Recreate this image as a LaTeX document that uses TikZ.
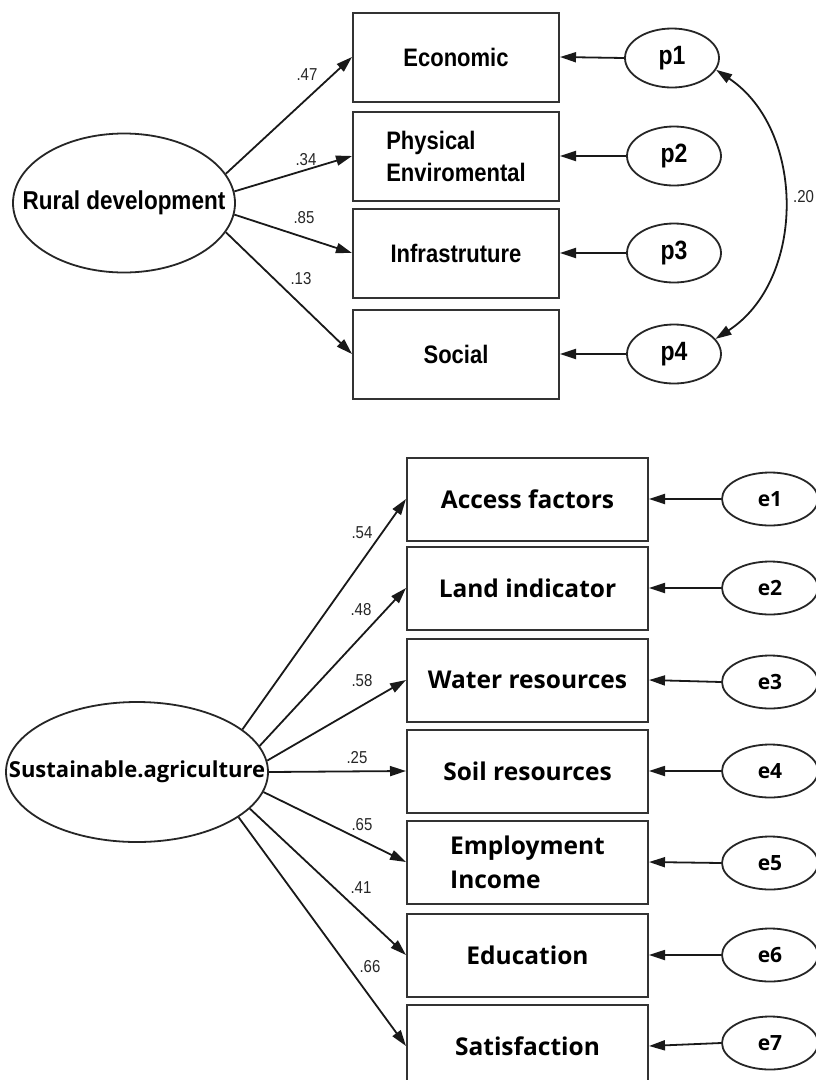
\documentclass[tikz,border=0pt]{standalone}
\usepackage{fontspec}
\usepackage{graphicx}
\setmainfont{Liberation Sans}
\newfontfamily\osans{Open Sans}
\usetikzlibrary{shapes.geometric,arrows.meta}
\newcommand{\tallt}[1]{\scalebox{1}[1.15]{#1}}
\begin{document}
\begin{tikzpicture}[x=1pt,y=-1pt,
  arr/.style={line width=1.8pt, draw=black!90, -{Triangle[length=16pt,width=10pt]}},
  tbox/.style={draw=black!80, line width=2pt, rectangle, minimum width=206pt, minimum height=89pt, inner sep=0pt, align=left, font=\fontsize{22}{32}\selectfont\bfseries},
  bbox/.style={draw=black!80, line width=2pt, rectangle, minimum width=241pt, minimum height=83pt, inner sep=0pt, align=left, font=\osans\fontsize{24.5}{34}\selectfont\bfseries},
  lat/.style={draw=black!85, line width=1.8pt, ellipse, inner sep=0pt},
  perr/.style={draw=black!85, line width=1.8pt, ellipse, inner sep=0pt, minimum width=94pt, minimum height=59pt, font=\fontsize{23}{25}\selectfont\bfseries},
  eerr/.style={draw=black!85, line width=1.8pt, ellipse, inner sep=0pt, minimum width=96pt, minimum height=53pt, font=\osans\fontsize{21}{24}\selectfont\bfseries},
  lab/.style={font=\fontsize{15}{17}\selectfont, text=black!85, inner sep=0pt}
]
\useasboundingbox[fill=white] (0,0) rectangle (816,1080);

% ---------- top model ----------
\node[lat, minimum width=222pt, minimum height=139pt, font=\fontsize{22.5}{25}\selectfont\bfseries] (rd) at (124,203) {\makebox[0pt]{\tallt{Rural development}}};

\node[tbox] (eco) at (456,57) {\tallt{Economic}};
\node[tbox] (phy) at (456,156) {\tallt{Physical}\\\tallt{Enviromental}};
\node[tbox] (inf) at (456,253) {\tallt{Infrastruture}};
\node[tbox] (soc) at (456,354) {\tallt{Social}};

\node[perr] (p1) at (672,58) {\tallt{p1}};
\node[perr] (p2) at (674,156) {\tallt{p2}};
\node[perr] (p3) at (674,253) {\tallt{p3}};
\node[perr] (p4) at (674,354) {\tallt{p4}};

\draw[arr] (rd.16) -- (eco.west);
\draw[arr] (rd.6) -- (phy.west);
\draw[arr] (rd.-6) -- (inf.west);
\draw[arr] (rd.-16) -- (soc.west);

\node[lab] (l47) at (307,75) {\tallt{.47}};
\node[lab] (l34) at (306,160) {\tallt{.34}};
\node[lab] (l85) at (304,218) {\tallt{.85}};
\node[lab] (l13) at (301,279) {\tallt{.13}};

\draw[arr] (p1.west) -- (eco.east);
\draw[arr] (p2.west) -- (phy.east);
\draw[arr] (p3.west) -- (inf.east);
\draw[arr] (p4.west) -- (soc.east);

\draw[line width=1.8pt, draw=black!90, {Triangle[length=16pt,width=10pt]}-{Triangle[length=16pt,width=10pt]}]
  (p1.-15) .. controls (806,130) and (806,280) .. (p4.20);
\node[lab, anchor=west] (l20) at (793,197) {\tallt{.20}};

% ---------- bottom model ----------
\node[lat, minimum width=262pt, minimum height=140pt, font=\osans\fontsize{22}{24}\selectfont\bfseries] (sa) at (137,772) {\makebox[0pt]{Sustainable.agriculture}};

\node[bbox] (acc) at (527.5,499) {Access factors};
\node[bbox] (land) at (527.5,588) {Land indicator};
\node[bbox] (wat) at (527.5,680) {Water resources};
\node[bbox] (soil) at (527.5,771) {Soil resources};
\node[bbox] (emp) at (527.5,862) {Employment\\Income};
\node[bbox] (edu) at (527.5,955) {Education};
\node[bbox] (sat) at (527.5,1046) {Satisfaction};

\node[eerr] (e1) at (770,499) {e1};
\node[eerr] (e2) at (770,588) {e2};
\node[eerr] (e3) at (770,682) {e3};
\node[eerr] (e4) at (770,771) {e4};
\node[eerr] (e5) at (770,863) {e5};
\node[eerr] (e6) at (770,955) {e6};
\node[eerr] (e7) at (770,1043) {e7};

\draw[arr] (sa.22) -- (acc.west);
\draw[arr] (sa.12) -- (land.west);
\draw[arr] (sa.5) -- (wat.west);
\draw[arr] (sa.0) -- (soil.west);
\draw[arr] (sa.-9) -- (emp.west);
\draw[arr] (sa.-18) -- (edu.west);
\draw[arr] (sa.-24) -- (sat.west);

\node[lab] (l54) at (362,533) {\tallt{.54}};
\node[lab] (l48) at (361,610) {\tallt{.48}};
\node[lab] (l58) at (362,681) {\tallt{.58}};
\node[lab] (l25) at (357,758) {\tallt{.25}};
\node[lab] (l65) at (362,825) {\tallt{.65}};
\node[lab] (l41) at (361,888) {\tallt{.41}};
\node[lab] (l66) at (370,967) {\tallt{.66}};

\draw[arr] (e1.west) -- (acc.east);
\draw[arr] (e2.west) -- (land.east);
\draw[arr] (e3.west) -- (wat.east);
\draw[arr] (e4.west) -- (soil.east);
\draw[arr] (e5.west) -- (emp.east);
\draw[arr] (e6.west) -- (edu.east);
\draw[arr] (e7.west) -- (sat.east);
\end{tikzpicture}
\end{document}
